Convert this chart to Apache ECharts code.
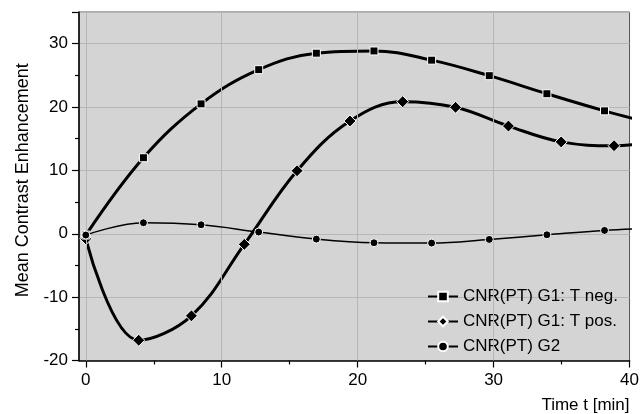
<!DOCTYPE html>
<html><head><meta charset="utf-8">
<script src="https://cdn.jsdelivr.net/npm/echarts@6/dist/echarts.min.js"></script>
<style>html,body{margin:0;padding:0;background:#fff}#c{width:642px;height:414px}</style>
</head><body><div id="c"></div>
<script>
const seriesNames = ['CNR(PT) G1: T neg.', 'CNR(PT) G1: T pos.', 'CNR(PT) G2'];
const xNeg = [0, 4.24, 8.48, 12.72, 16.96, 21.2, 25.44, 29.68, 33.92, 38.16, 42.4];
const yNeg = [-0.2, 12.0, 20.5, 25.9, 28.5, 28.85, 27.4, 24.95, 22.1, 19.4, 17.0];
const xPos = [0, 3.89, 7.77, 11.66, 15.54, 19.43, 23.31, 27.2, 31.09, 34.97, 38.86, 42.74];
const yPos = [-0.8, -16.8, -12.95, -1.67, 9.95, 17.8, 20.85, 19.96, 17.0, 14.5, 13.9, 14.8];
const xG2 = [0, 4.24, 8.48, 12.72, 16.96, 21.2, 25.44, 29.68, 33.92, 38.16, 42.4];
const yG2 = [-0.2, 1.74, 1.42, 0.27, -0.84, -1.42, -1.47, -0.89, -0.16, 0.53, 0.95];
const xTicks = [0, 10, 20, 30, 40];
const xMinorTicks = [5, 15, 25, 35];
const xGridLines = [0, 10, 20, 30];

const pair = (xs, ys) => xs.map((x, i) => [x, ys[i]]);
const font = 'Liberation Sans, Arial, sans-serif';
const chart = echarts.init(document.getElementById('c'), null, {renderer: 'canvas'});
const markStyle = {color: '#000', borderColor: '#fff', borderWidth: 1};
chart.setOption({
  animation: false,
  grid: {left: 79, right: 10, top: 12, bottom: 53.5, show: true, backgroundColor: '#d4d4d4', borderColor: '#555', borderWidth: 1},
  legend: {
    orient: 'vertical', left: 422, top: 283, itemGap: 8, itemWidth: 30, itemHeight: 12,
    textStyle: {fontFamily: font, fontSize: 17, color: '#000'},
    data: seriesNames
  },
  xAxis: [{
    type: 'value', min: -0.5, max: 40,
    axisLine: {show: true, onZero: false, lineStyle: {color: '#000', width: 1.5}},
    axisTick: {show: true, customValues: xTicks, length: 7, lineStyle: {color: '#000', width: 1.2}},
    axisLabel: {customValues: xTicks, fontFamily: font, fontSize: 17, color: '#000', margin: 11},
    splitLine: {show: false},
    name: 'Time t [min]', nameLocation: 'end', nameGap: 0,
    nameTextStyle: {fontFamily: font, fontSize: 17, color: '#000', align: 'right', verticalAlign: 'top', padding: [36, 0, 0, 0]}
  }, {
    type: 'value', min: -0.5, max: 40, position: 'bottom',
    axisLine: {show: false, onZero: false},
    axisTick: {show: true, customValues: xMinorTicks, length: 4, lineStyle: {color: '#000', width: 1.2}},
    axisLabel: {show: false}, splitLine: {show: false}
  }],
  yAxis: {
    type: 'value', min: -20, max: 35, interval: 10,
    axisLine: {show: true, onZero: false, lineStyle: {color: '#000', width: 1.5}},
    axisTick: {show: true, length: 7, lineStyle: {color: '#000', width: 1.2}},
    minorTick: {show: true, splitNumber: 2, length: 4, lineStyle: {color: '#000', width: 1.2}},
    axisLabel: {fontFamily: font, fontSize: 17, color: '#000', margin: 11, showMaxLabel: false},
    splitLine: {show: true, lineStyle: {color: '#b6b6b6', width: 1}},
    name: 'Mean Contrast Enhancement', nameLocation: 'middle', nameGap: 44,
    nameTextStyle: {fontFamily: font, fontSize: 18, color: '#000', padding: [0, 0, 0, 12]}
  },
  series: [{
    name: seriesNames[0], type: 'line', smooth: 0.38, data: pair(xNeg, yNeg),
    symbol: 'rect', symbolSize: 8, showAllSymbol: true,
    lineStyle: {color: '#000', width: 3}, itemStyle: markStyle, z: 4,
    markLine: {silent: true, symbol: 'none', label: {show: false}, animation: false,
      lineStyle: {color: '#b6b6b6', width: 1, type: 'solid'},
      data: xGridLines.map(v => ({xAxis: v}))}
  }, {
    name: seriesNames[1], type: 'line', smooth: 0.38, data: pair(xPos, yPos),
    symbol: 'diamond', symbolSize: 12, showAllSymbol: true,
    lineStyle: {color: '#000', width: 3}, itemStyle: markStyle, z: 3
  }, {
    name: seriesNames[2], type: 'line', smooth: 0.38, data: pair(xG2, yG2),
    symbol: 'circle', symbolSize: 8, showAllSymbol: true,
    lineStyle: {color: '#000', width: 1.5}, itemStyle: markStyle, z: 5
  }]
});
</script></body></html>
